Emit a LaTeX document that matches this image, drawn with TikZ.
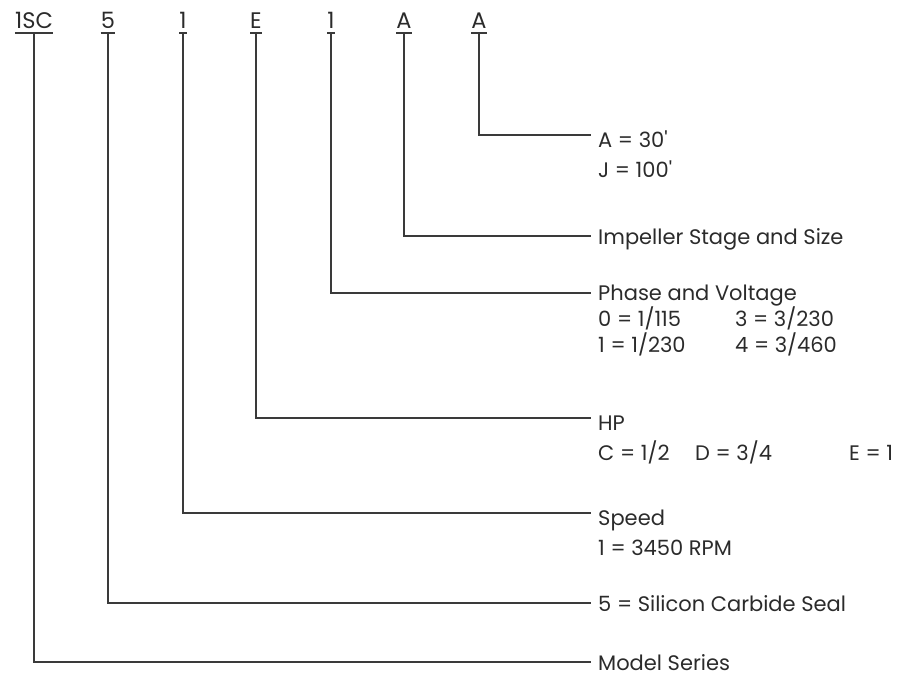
\documentclass[tikz,border=0pt]{standalone}
\usepackage{fontspec}
\newfontfamily\labfont{Poppins}
\definecolor{ink}{HTML}{2B2B2B}
\definecolor{wire}{HTML}{3A3A3A}
\begin{document}
\begin{tikzpicture}[x=1pt,y=-1pt,
  hdr/.style={anchor=base,inner sep=0pt,text=ink,font=\labfont\fontsize{22.5}{26}\selectfont},
  lbl/.style={anchor=base west,inner sep=0pt,text=ink,font=\labfont\fontsize{21}{25}\selectfont},
  wirestyle/.style={draw=wire,line width=1.3pt}]
\useasboundingbox (0,0) rectangle (915,676);
% header codes
\node[hdr] (h1) at (34,29) {1SC};
\node[hdr] (h2) at (108,29) {5};
\node[hdr] (h3) at (183,29) {1};
\node[hdr] (h4) at (256,29) {E};
\node[hdr] (h5) at (331,29) {1};
\node[hdr] (h6) at (404,29) {A};
\node[hdr] (h7) at (479,29) {A};
\foreach \h in {h1,h2,h3,h4,h5,h6,h7}{
  \draw[wirestyle] ([yshift=-4pt]\h.base west) -- ([yshift=-4pt]\h.base east);
  \coordinate (\h u) at ([yshift=-4pt]\h.base);
}
% line ends
\coordinate (e7) at (591,135);
\coordinate (e6) at (591,236);
\coordinate (e5) at (591,293);
\coordinate (e4) at (591,418);
\coordinate (e3) at (591,513);
\coordinate (e2) at (591,603);
\coordinate (e1) at (591,662);
\draw[wirestyle] (h7u) |- (e7);
\draw[wirestyle] (h6u) |- (e6);
\draw[wirestyle] (h5u) |- (e5);
\draw[wirestyle] (h4u) |- (e4);
\draw[wirestyle] (h3u) |- (e3);
\draw[wirestyle] (h2u) |- (e2);
\draw[wirestyle] (h1u) |- (e1);
% labels
\node[lbl] (a30) at (598,148) {A = 30'};
\node[lbl] (j100) at (598,178) {J = 100'};
\node[lbl] (imp) at (598,245) {Impeller Stage and Size};
\node[lbl] (phv) at (598,300) {Phase and Voltage};
\node[lbl] (p0) at (598,326) {0 = 1/115};
\node[lbl] (p3) at (735,326) {3 = 3/230};
\node[lbl] (p1) at (598,352) {1 = 1/230};
\node[lbl] (p4) at (735,352) {4 = 3/460};
\node[lbl] (hp) at (598,430) {HP};
\node[lbl] (hc) at (598,460) {C = 1/2};
\node[lbl] (hd) at (695,460) {D = 3/4};
\node[lbl] (he) at (849,460) {E = 1};
\node[lbl] (spd) at (598,525) {Speed};
\node[lbl] (rpm) at (598,555) {1 = 3450 RPM};
\node[lbl] (seal) at (598,611) {5 = Silicon Carbide Seal};
\node[lbl] (ms) at (598,670) {Model Series};
\end{tikzpicture}
\end{document}
